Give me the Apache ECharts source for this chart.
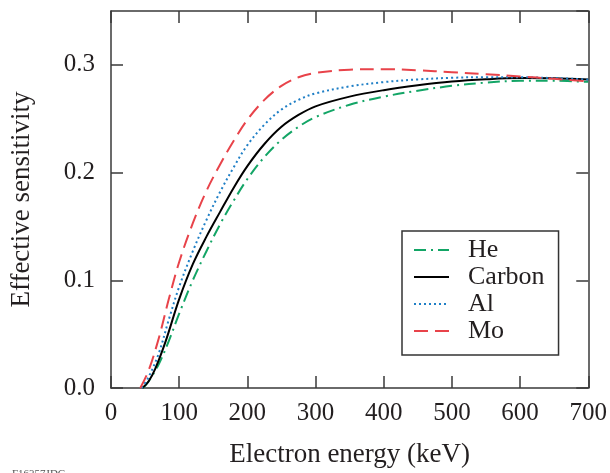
<!DOCTYPE html>
<html>
<head>
<meta charset="utf-8">
<script src="https://cdn.jsdelivr.net/npm/echarts@6/dist/echarts.min.js"></script>
<style>
html,body{margin:0;padding:0;background:#fff;}
#chart{width:610px;height:473px;}
</style>
</head>
<body>
<div id="chart"></div>
<script>
// Energy (keV) and effective sensitivity
const heEnergy = [47, 55, 70, 85, 100, 120, 140, 160, 180, 200, 225, 250, 275, 300, 350, 400, 450, 500, 550, 600, 650, 700];
const heValues = [0, 0.006, 0.022, 0.044, 0.069, 0.100, 0.127, 0.152, 0.174, 0.194, 0.2145, 0.2305, 0.2425, 0.2515, 0.263, 0.2705, 0.276, 0.2805, 0.2835, 0.2852, 0.2852, 0.2842];

const carbonEnergy = [46, 55, 65, 80, 100, 120, 140, 160, 180, 200, 225, 250, 275, 300, 350, 400, 450, 500, 550, 600, 650, 700];
const carbonValues = [0, 0.006, 0.018, 0.043, 0.0825, 0.115, 0.1405, 0.1635, 0.186, 0.206, 0.2265, 0.2425, 0.2535, 0.2615, 0.2705, 0.2765, 0.281, 0.2845, 0.2866, 0.2877, 0.2875, 0.2864];

const alEnergy = [45, 55, 70, 85, 100, 120, 140, 160, 180, 200, 225, 250, 275, 300, 350, 400, 450, 500, 550, 600, 650, 700];
const alValues = [0, 0.010, 0.032, 0.064, 0.094, 0.127, 0.156, 0.182, 0.205, 0.2255, 0.2445, 0.2585, 0.2675, 0.2735, 0.280, 0.284, 0.2865, 0.288, 0.2886, 0.2885, 0.2877, 0.2864];

const moEnergy = [43, 55, 70, 85, 100, 120, 140, 160, 180, 200, 225, 250, 275, 300, 350, 400, 450, 500, 550, 600, 650, 700];
const moValues = [0, 0.016, 0.046, 0.083, 0.117, 0.153, 0.183, 0.2075, 0.2295, 0.249, 0.2675, 0.2805, 0.2885, 0.2925, 0.2955, 0.296, 0.295, 0.2932, 0.2913, 0.2893, 0.287, 0.2848];

const seriesNames = ['He', 'Carbon', 'Al', 'Mo'];

function pairs(xs, ys) { return xs.map((x, i) => [x, ys[i]]); }

const FONT = '"Liberation Serif", "Times New Roman", "DejaVu Serif", serif';
const TXT = '#231f20';
const AX = '#3a3a3a';

const chart = echarts.init(document.getElementById('chart'), null, {renderer: 'canvas'});

function axisCommon() {
  return {
    axisLine: {show: true, onZero: false, lineStyle: {color: AX, width: 1.5}},
    axisTick: {show: true, inside: true, length: 12, lineStyle: {color: AX, width: 1.5}},
    splitLine: {show: false}
  };
}

function lineSeries(name, xs, ys, color, dash) {
  return {
    name: name,
    type: 'line',
    data: pairs(xs, ys),
    smooth: 0.35,
    symbol: 'none',
    showSymbol: false,
    xAxisIndex: 0,
    yAxisIndex: 0,
    lineStyle: {color: color, width: 2, type: dash},
    itemStyle: {color: color},
    z: 3
  };
}

chart.setOption({
  backgroundColor: '#fff',
  animation: false,
  grid: {left: 111, right: 20, top: 11, bottom: 78, containLabel: false},
  xAxis: [
    Object.assign({
      type: 'value', position: 'bottom', min: 0, max: 700, interval: 100,
      name: 'Electron energy (keV)', nameLocation: 'middle', nameGap: 53,
      nameTextStyle: {fontFamily: FONT, fontSize: 27, color: TXT},
      axisLabel: {fontFamily: FONT, fontSize: 25, color: TXT, margin: 13}
    }, axisCommon()),
    Object.assign({
      type: 'value', position: 'top', min: 0, max: 700, interval: 100,
      axisLabel: {show: false}
    }, axisCommon())
  ],
  yAxis: [
    Object.assign({
      type: 'value', position: 'left', min: 0, max: 0.35, interval: 0.1,
      name: 'Effective sensitivity', nameLocation: 'middle', nameGap: 76,
      nameTextStyle: {fontFamily: FONT, fontSize: 27, color: TXT},
      axisLabel: {fontFamily: FONT, fontSize: 25, color: TXT, margin: 16, showMaxLabel: false,
        formatter: v => (Math.abs(v * 10 - Math.round(v * 10)) < 1e-6 ? v.toFixed(1) : '')}
    }, axisCommon()),
    Object.assign({
      type: 'value', position: 'right', min: 0, max: 0.35, interval: 0.1,
      axisLabel: {show: false}
    }, axisCommon())
  ],
  legend: {
    data: seriesNames,
    orient: 'vertical',
    left: 402,
    top: 231,
    padding: [6, 14, 11, 11],
    itemWidth: 35,
    itemHeight: 14,
    itemGap: 1,
    borderColor: '#333',
    borderWidth: 1.5,
    backgroundColor: '#fff',
    itemStyle: {color: 'rgba(0,0,0,0)', borderColor: 'rgba(0,0,0,0)', borderWidth: 0},
    textStyle: {fontFamily: FONT, fontSize: 26, color: TXT, padding: [0, 0, 0, 14]}
  },
  graphic: [
    {type: 'text', left: 12, top: 469, style: {text: 'F16357JDC', font: '11px ' + FONT, fill: '#555'}}
  ],
  series: [
    lineSeries('He', heEnergy, heValues, '#13a566', [12, 5, 2, 5]),
    lineSeries('Carbon', carbonEnergy, carbonValues, '#000000', 'solid'),
    lineSeries('Al', alEnergy, alValues, '#1f7fc6', [2, 3]),
    lineSeries('Mo', moEnergy, moValues, '#e8434a', [14, 7])
  ]
});
</script>
</body>
</html>
